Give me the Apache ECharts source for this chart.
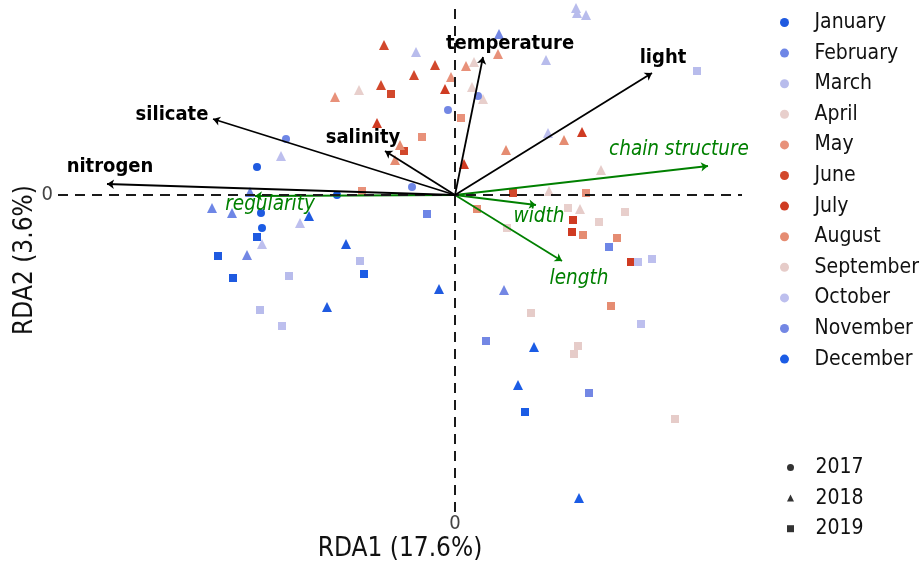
<!DOCTYPE html>
<html>
<head>
<meta charset="utf-8">
<script src="https://cdn.jsdelivr.net/npm/echarts@6/dist/echarts.min.js"></script>
<style>
html,body{margin:0;padding:0;background:#fff;}
#chart{width:921px;height:565px;}
</style>
</head>
<body>
<div id="chart"></div>
<script>
// ---- data (RDA site scores: [RDA1, RDA2, year]) ----
const months = ['January','February','March','April','May','June','July','August','September','October','November','December'];
const years = ['2017','2018','2019'];

const january  = [[-1.98,0.28,2017],[-1.94,-0.18,2017],[-1.46,-0.21,2018],[-1.09,-0.49,2018],[-1.28,-1.12,2018],[-0.16,-0.94,2018],[-1.98,-0.42,2019],[-2.37,-0.61,2019],[-2.22,-0.83,2019]];
const february = [[-1.69,0.56,2017],[-0.43,0.08,2017],[-2.05,0.03,2018],[-2.43,-0.13,2018],[-2.23,-0.18,2018],[-0.28,-0.19,2019],[1.54,-0.52,2019]];
const march    = [[1.21,1.87,2018],[1.22,1.82,2018],[1.31,1.80,2018],[-0.39,1.43,2018],[0.91,1.35,2018],[2.42,1.24,2019],[-0.95,-0.66,2019],[-1.66,-0.81,2019],[-1.95,-1.15,2019]];
const april    = [[0.19,1.33,2018],[-0.96,1.05,2018],[0.17,1.08,2018],[0.28,0.96,2018],[1.13,-0.13,2019],[1.70,-0.17,2019],[1.44,-0.27,2019],[0.52,-0.33,2019]];
const may      = [[0.43,1.41,2018],[0.11,1.29,2018],[-0.04,1.18,2018],[-1.20,0.98,2018],[0.06,0.77,2019],[-0.33,0.58,2019],[-0.93,0.04,2019],[1.31,0.02,2019]];
const june     = [[-0.71,1.50,2018],[-0.20,1.30,2018],[-0.41,1.20,2018],[-0.74,1.10,2018],[-0.64,1.01,2019],[-0.51,0.44,2019],[0.58,0.02,2019]];
const july     = [[-0.10,1.06,2018],[-0.78,0.72,2018],[1.27,0.63,2018],[0.09,0.31,2018],[1.18,-0.25,2019],[1.17,-0.37,2019],[1.76,-0.67,2019]];
const august   = [[1.09,0.55,2018],[0.51,0.45,2018],[-0.55,0.50,2018],[-0.60,0.35,2018],[0.22,-0.14,2019],[1.28,-0.40,2019],[1.62,-0.43,2019],[1.56,-1.11,2019]];
const september= [[1.46,0.25,2018],[0.94,0.04,2018],[1.25,-0.14,2018],[0.76,-1.18,2019],[1.23,-1.51,2019],[1.19,-1.59,2019],[2.20,-2.24,2019]];
const october  = [[0.93,0.62,2018],[-1.74,0.39,2018],[-1.55,-0.28,2018],[-1.93,-0.49,2018],[-1.73,-1.31,2019],[1.83,-0.67,2019],[1.97,-0.64,2019],[1.86,-1.29,2019]];
const november = [[0.23,0.99,2017],[-0.07,0.85,2017],[-2.08,-0.60,2018],[0.44,1.61,2018],[0.49,-0.95,2018],[0.31,-1.46,2019],[1.34,-1.98,2019]];
const december = [[-1.18,0.00,2017],[-1.93,-0.33,2017],[0.79,-1.52,2018],[0.63,-1.90,2018],[1.24,-3.03,2018],[-0.91,-0.79,2019],[0.70,-2.17,2019]];

// environmental vectors (black) and trait vectors (green): arrow tips
const envNames = ['temperature','light','silicate','salinity','nitrogen'];
const envX = [0.28, 1.97, -2.42, -0.70, -3.48];
const envY = [1.38, 1.22, 0.76, 0.44, 0.11];
const traitNames = ['chain structure','regularity','width','length'];
const traitX = [2.53, -2.00, 0.81, 1.07];
const traitY = [0.29, -0.01, -0.10, -0.66];

const axisNames = ['RDA1 (17.6%)','RDA2 (3.6%)'];

// ---- styles ----
const monthData = [january,february,march,april,may,june,july,august,september,october,november,december];
const monthColors = ['#1f5ae0','#6e86e6','#b8bcec','#e8cfcc','#e8917a','#d2482c','#cf3b22','#e58c72','#e6ccc9','#bdbfee','#7387e4','#1b5ce5'];
const yearSymbols = {2017:'circle',2018:'triangle',2019:'rect'};
const yearSizes = {2017:8,2018:10,2019:8};
const labelOffsets = {
  'temperature':[27,-13],'light':[11,-15],'silicate':[-41,-4],'salinity':[-22,-13],'nitrogen':[3,-17],
  'chain structure':[-29,-16],'regularity':[15,9],'width':[3,12],'length':[17,18]
};
const FONT = '"DejaVu Sans Condensed","DejaVu Sans",sans-serif';
const GREEN = '#008000';

const series = [];
months.forEach((m,i)=>{
  series.push({
    name:m, type:'scatter', data:monthData[i], clip:false, z:2,
    symbol:(v)=>yearSymbols[v[2]],
    symbolSize:(v)=>yearSizes[v[2]],
    itemStyle:{color:monthColors[i], opacity:1},
    emphasis:{disabled:true}
  });
});
// year legend dummies
const yearLegendIcons = ['circle','path://M0,1L0.5,0L1,1Z','path://M0,0H1V1H0Z'];
years.forEach((y)=>{
  series.push({name:y, type:'scatter', data:[], itemStyle:{color:'#000'}});
});

// zero lines
series.push({
  type:'scatter', data:[], silent:true,
  markLine:{silent:true, symbol:'none', label:{show:false}, animation:false,
    lineStyle:{color:'#1a1a1a', width:2, type:[10,7]},
    data:[{xAxis:0},{yAxis:0}]}
});

function arrowSeries(names, xs, ys, color, z){
  return {
    type:'lines', coordinateSystem:'cartesian2d', z:z, silent:true,
    symbol:['none','arrow'], symbolSize:7,
    lineStyle:{color:color, width:1.8, opacity:1, curveness:0},
    data:names.map((n,i)=>({name:n, coords:[[0,0],[xs[i],ys[i]]]}))
  };
}
function labelSeries(names, xs, ys, color, bold, italic){
  return {
    type:'scatter', z:6, silent:true, symbolSize:0,
    itemStyle:{opacity:1},
    data:names.map((n,i)=>({name:n, value:[xs[i],ys[i]],
      label:{offset:labelOffsets[n]}})),
    label:{show:true, position:'inside', formatter:'{b}', color:color, opacity:1,
      fontFamily:FONT, fontSize: bold ? 20 : 20.5,
      fontWeight: bold ? 'bold' : 'normal', fontStyle: italic ? 'italic' : 'normal'}
  };
}
series.push(arrowSeries(traitNames, traitX, traitY, GREEN, 4));
series.push(arrowSeries(envNames, envX, envY, '#000', 5));
series.push(labelSeries(envNames, envX, envY, '#000', true, false));
series.push(labelSeries(traitNames, traitX, traitY, GREEN, false, true));

const chart = echarts.init(document.getElementById('chart'), null, {renderer:'canvas'});
chart.setOption({
  animation:false,
  backgroundColor:'#fff',
  textStyle:{fontFamily:FONT},
  grid:{left:58, right:179, top:8, bottom:53, containLabel:false, outerBoundsMode:'none'},
  xAxis:{type:'value', min:-3.97, max:2.87,
    name:axisNames[0], nameLocation:'middle', nameGap:24, nameMoveOverlap:false,
    nameTextStyle:{fontSize:26, color:'#111', fontFamily:FONT},
    axisLine:{show:false}, axisTick:{show:false}, splitLine:{show:false},
    axisLabel:{formatter:(v)=> v===0 ? '0' : '', fontSize:20, color:'#444', margin:2, fontFamily:FONT}},
  yAxis:{type:'value', min:-3.17, max:1.87,
    name:axisNames[1], nameLocation:'middle', nameGap:20, nameRotate:90, nameMoveOverlap:false,
    nameTextStyle:{fontSize:26, color:'#111', fontFamily:FONT},
    axisLine:{show:false}, axisTick:{show:false}, splitLine:{show:false},
    axisLabel:{formatter:(v)=> v===0 ? '0' : '', fontSize:20, color:'#444', margin:5, fontFamily:FONT}},
  legend:[
    {orient:'vertical', left:780, top:12, padding:0, selectedMode:false,
     itemWidth:50, itemHeight:9, itemGap:9.6,
     textStyle:{fontSize:21, color:'#111', lineHeight:20, fontFamily:FONT},
     data:months.map(m=>({name:m, icon:'circle'}))},
    {orient:'vertical', left:787, top:457, padding:0, selectedMode:false,
     itemWidth:40, itemHeight:7, itemGap:9.6,
     textStyle:{fontSize:21, color:'#111', lineHeight:20, fontFamily:FONT},
     data:years.map((y,i)=>({name:y, icon:yearLegendIcons[i]}))}
  ],
  series:series
});
</script>
</body>
</html>
